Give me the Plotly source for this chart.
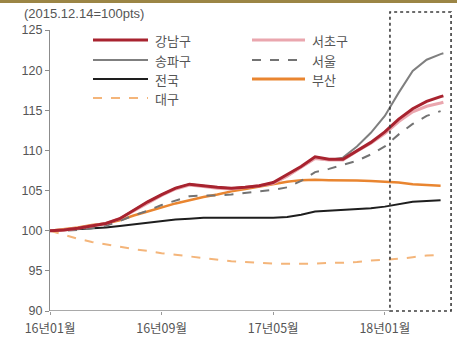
import plotly.graph_objects as go

# Months since Jan 2016 (weekly index rebased 2015.12.14 = 100)
months = list(range(29)) + [28.2]
tick_vals = [0, 8, 16, 24]
tick_text = ["16년01월", "16년09월", "17년05월", "18년01월"]

gangnam = [100.0, 100.1, 100.3, 100.6, 100.9, 101.5, 102.6, 103.6, 104.5, 105.3,
           105.8, 105.6, 105.4, 105.3, 105.4, 105.6, 106.0, 107.0, 108.0, 109.2,
           108.9, 108.9, 110.0, 111.0, 112.3, 113.9, 115.2, 116.1, 116.7, 116.8]
seocho = [100.0, 100.1, 100.3, 100.6, 100.9, 101.5, 102.5, 103.5, 104.4, 105.2,
          105.7, 105.5, 105.3, 105.2, 105.4, 105.6, 105.9, 106.8, 107.9, 109.0,
          108.8, 108.8, 109.9, 110.9, 112.1, 113.6, 114.8, 115.5, 115.9, 116.0]
songpa = [100.0, 100.1, 100.3, 100.6, 100.9, 101.5, 102.6, 103.6, 104.5, 105.3,
          105.8, 105.6, 105.4, 105.3, 105.4, 105.6, 105.9, 106.8, 107.9, 109.0,
          108.8, 109.1, 110.5, 112.2, 114.3, 117.2, 119.9, 121.3, 122.0, 122.1]
seoul = [100.0, 100.0, 100.1, 100.3, 100.6, 101.2, 101.9, 102.5, 103.2, 103.8,
         104.3, 104.4, 104.4, 104.5, 104.7, 104.9, 105.1, 105.4, 106.2, 107.3,
         107.7, 108.2, 108.7, 109.5, 110.5, 112.0, 113.3, 114.3, 114.9]
nation = [100.0, 100.1, 100.2, 100.3, 100.4, 100.6, 100.8, 101.0, 101.2, 101.4,
          101.5, 101.6, 101.6, 101.6, 101.6, 101.6, 101.6, 101.7, 102.0, 102.4,
          102.5, 102.6, 102.7, 102.8, 103.0, 103.3, 103.6, 103.7, 103.8]
busan = [100.0, 100.2, 100.4, 100.7, 100.9, 101.3, 101.9, 102.4, 102.9, 103.4,
         103.8, 104.2, 104.5, 104.9, 105.2, 105.5, 105.8, 106.1, 106.3, 106.35,
         106.3, 106.3, 106.25, 106.2, 106.1, 106.0, 105.8, 105.7, 105.6]
daegu = [100.0, 99.5, 99.0, 98.6, 98.3, 98.0, 97.7, 97.5, 97.2, 97.0,
         96.8, 96.6, 96.4, 96.2, 96.1, 96.0, 95.9, 95.9, 95.9, 95.9,
         96.0, 96.0, 96.1, 96.3, 96.4, 96.5, 96.7, 96.9, 97.0]

series = {
    "강남구": gangnam, "서초구": seocho, "송파구": songpa, "서울": seoul,
    "전국": nation, "부산": busan, "대구": daegu,
}
styles = {
    "강남구": dict(color="#a8232f", width=3, dash="solid"),
    "서초구": dict(color="#eaa6ae", width=3, dash="solid"),
    "송파구": dict(color="#7f7f7f", width=2, dash="solid"),
    "서울": dict(color="#737373", width=2, dash="dash"),
    "전국": dict(color="#1e1e1e", width=2, dash="solid"),
    "부산": dict(color="#e98530", width=2.5, dash="solid"),
    "대구": dict(color="#f4b57a", width=2, dash="dash"),
}
draw_order = ["대구", "전국", "부산", "서울", "송파구", "서초구", "강남구"]

# legend grid: (column, row)
legend_slots = {
    "강남구": (0, 0), "서초구": (1, 0), "송파구": (0, 1), "서울": (1, 1),
    "전국": (0, 2), "부산": (1, 2), "대구": (0, 3),
}

W, H = 457, 338
L, R, T, B = 50, 5, 30, 27
pw, ph = W - L - R, H - T - B
num_font = "Liberation Sans, Arial, Noto Sans CJK KR, sans-serif"
kr_font = "Noto Sans CJK KR, Noto Sans, sans-serif"


def px(xp):
    return (xp - L) / pw


def py(yp):
    return (H - B - yp) / ph


fig = go.Figure()
for name in draw_order:
    vals = series[name]
    st = styles[name]
    fig.add_trace(go.Scatter(
        x=months[:len(vals)], y=vals, mode="lines", name=name,
        line=dict(color=st["color"], width=st["width"], dash=st["dash"]),
        showlegend=False, hoverinfo="skip",
    ))

shapes = []
annotations = []

# hand-placed two-column legend
col_line = [(93, 148), (252, 305)]
col_text = [153, 310]
row_y = [40, 60, 79, 98]
for name, (c, r) in legend_slots.items():
    st = styles[name]
    shapes.append(dict(
        type="line", xref="paper", yref="paper",
        x0=px(col_line[c][0]), x1=px(col_line[c][1]),
        y0=py(row_y[r]), y1=py(row_y[r]),
        line=dict(color=st["color"], width=3 if st["width"] >= 2.5 else 2.2,
                  dash=st["dash"]),
    ))
    annotations.append(dict(
        text=name, xref="paper", yref="paper", x=px(col_text[c]), y=py(row_y[r]),
        xanchor="left", yanchor="middle", showarrow=False,
        font=dict(size=13, color="#555555"),
    ))

# x-axis baseline up to the highlighted window
box_x0, box_x1 = 24.37, 28.75
shapes.append(dict(type="line", xref="x", yref="y", x0=0, x1=box_x0, y0=90, y1=90,
                   line=dict(color="#8c8c8c", width=1.3)))
# highlighted recent window
shapes.append(dict(type="rect", xref="x", yref="paper", x0=box_x0, x1=box_x1,
                   y0=0, y1=py(12), line=dict(color="#3c3c3c", width=1.6, dash="3px,3px"),
                   fillcolor="rgba(0,0,0,0)"))
# top border strip
shapes.append(dict(type="rect", xref="paper", yref="paper", x0=px(-5), x1=px(W + 5),
                   y0=py(3), y1=py(-3), line=dict(width=0), fillcolor="#9b8545"))

annotations.append(dict(
    text="(2015.12.14=100pts)", xref="paper", yref="paper", x=px(22), y=py(13),
    xanchor="left", yanchor="middle", showarrow=False,
    font=dict(size=13, color="#555555", family=num_font),
))

fig.update_layout(
    width=W, height=H,
    margin=dict(l=L, r=R, t=T, b=B, autoexpand=False),
    paper_bgcolor="white", plot_bgcolor="white",
    font=dict(family=kr_font, color="#555555"),
    shapes=shapes, annotations=annotations,
    showlegend=False,
)
fig.update_xaxes(
    range=[0, pw / 13.95], tickvals=tick_vals, ticktext=tick_text,
    showgrid=False, zeroline=False, showline=False, automargin=False,
    ticks="outside", ticklen=3, tickcolor="#9a9a9a",
    ticklabelstandoff=3,
    tickfont=dict(size=12.5, color="#555555", family=kr_font),
)
fig.update_yaxes(
    range=[90, 125], dtick=5, showgrid=False, zeroline=False, automargin=False,
    showline=True, linecolor="#8c8c8c", linewidth=1.3,
    ticks="outside", ticklen=4, tickcolor="#8c8c8c",
    tickfont=dict(size=12.5, color="#555555", family=num_font),
)

fig.write_html("out.html")
